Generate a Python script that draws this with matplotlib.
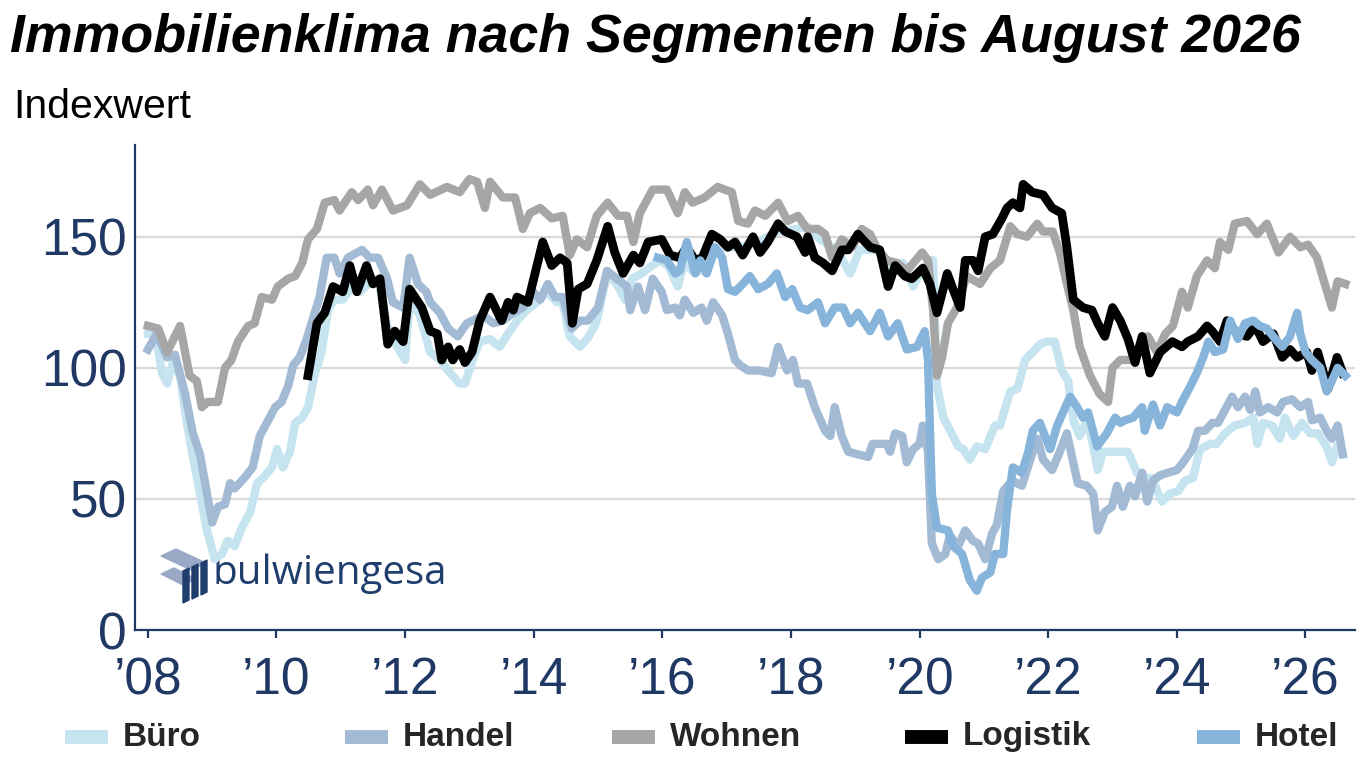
import numpy as np
import matplotlib
matplotlib.use('Agg')
import matplotlib.pyplot as plt
from matplotlib.lines import Line2D
from matplotlib.patches import Polygon

plt.rcParams['font.family'] = ['Liberation Sans', 'DejaVu Sans']

# data: (decimal year, index value)
buero = [(2008.0, 113), (2008.12, 113), (2008.22, 98), (2008.3, 94), (2008.39, 102), (2008.5, 97),
         (2008.6, 80), (2008.7, 66), (2008.81, 52), (2008.92, 38), (2009.04, 27), (2009.15, 29),
         (2009.24, 34), (2009.35, 32), (2009.46, 39), (2009.59, 45), (2009.7, 56), (2009.79, 58),
         (2009.93, 62), (2010.01, 69), (2010.1, 62), (2010.21, 68), (2010.29, 79), (2010.4, 81),
         (2010.49, 85), (2010.6, 98), (2010.7, 106), (2010.8, 122), (2010.9, 126), (2011.03, 126),
         (2011.17, 131), (2011.3, 129), (2011.42, 132), (2011.58, 134), (2011.72, 116), (2011.88, 108),
         (2012.0, 103), (2012.07, 126), (2012.23, 120), (2012.39, 106), (2012.54, 103), (2012.7, 98),
         (2012.85, 94), (2012.93, 94), (2013.05, 103), (2013.16, 110), (2013.32, 111), (2013.47, 108),
         (2013.6, 113), (2013.74, 118), (2013.89, 122), (2014.05, 125), (2014.21, 129), (2014.36, 125),
         (2014.45, 125), (2014.56, 112), (2014.72, 108), (2014.83, 111), (2014.95, 116), (2015.0, 120),
         (2015.14, 136), (2015.29, 132), (2015.42, 126), (2015.53, 134), (2015.68, 136), (2015.84, 139),
         (2015.96, 141), (2016.09, 139), (2016.24, 131), (2016.35, 141), (2016.46, 137), (2016.62, 137),
         (2016.71, 138), (2016.82, 144), (2016.97, 146), (2017.2, 146), (2017.5, 148), (2017.78, 152),
         (2018.1, 153), (2018.25, 154), (2018.45, 149), (2018.71, 145), (2018.92, 136), (2019.07, 145),
         (2019.33, 145), (2019.58, 139), (2019.74, 140), (2019.9, 131), (2020.0, 136), (2020.16, 141),
         (2020.21, 141), (2020.27, 93), (2020.37, 81), (2020.5, 75), (2020.6, 70), (2020.68, 69),
         (2020.78, 65), (2020.89, 70), (2021.02, 69), (2021.17, 78), (2021.25, 78), (2021.41, 91),
         (2021.52, 92), (2021.64, 103), (2021.76, 106), (2021.87, 109), (2021.98, 110), (2022.1, 110),
         (2022.21, 99), (2022.31, 95), (2022.39, 80), (2022.49, 74), (2022.6, 80), (2022.7, 70),
         (2022.77, 61), (2022.85, 68), (2023.0, 68), (2023.12, 68), (2023.24, 68), (2023.38, 60),
         (2023.47, 58), (2023.61, 58), (2023.77, 49), (2023.89, 52), (2024.02, 53), (2024.13, 57),
         (2024.25, 58), (2024.36, 69), (2024.52, 71), (2024.62, 71), (2024.75, 75), (2024.9, 78),
         (2025.06, 79), (2025.19, 81), (2025.25, 71), (2025.34, 79), (2025.48, 78), (2025.6, 73),
         (2025.68, 81), (2025.81, 74), (2025.95, 79), (2026.07, 75), (2026.19, 75), (2026.33, 70),
         (2026.41, 64), (2026.49, 70)]

handel = [(2008.0, 107), (2008.14, 113), (2008.3, 104), (2008.42, 105), (2008.58, 90), (2008.7, 75),
          (2008.81, 67), (2008.92, 52), (2009.0, 41), (2009.09, 47), (2009.2, 48), (2009.28, 56),
          (2009.35, 54), (2009.5, 58), (2009.63, 62), (2009.74, 74), (2009.85, 79), (2009.98, 85),
          (2010.08, 87), (2010.18, 93), (2010.26, 101), (2010.36, 104), (2010.47, 111), (2010.57, 119),
          (2010.67, 127), (2010.78, 142), (2010.9, 142), (2010.98, 136), (2011.11, 142), (2011.33, 145),
          (2011.45, 142), (2011.58, 142), (2011.72, 134), (2011.81, 125), (2011.97, 123), (2012.07, 142),
          (2012.2, 132), (2012.33, 129), (2012.39, 125), (2012.54, 121), (2012.67, 115), (2012.82, 112),
          (2012.96, 117), (2013.05, 118), (2013.21, 120), (2013.37, 117), (2013.52, 118), (2013.68, 121),
          (2013.83, 123), (2013.99, 129), (2014.1, 126), (2014.22, 132), (2014.33, 127), (2014.45, 127),
          (2014.59, 115), (2014.72, 118), (2014.84, 118), (2015.0, 123), (2015.14, 137), (2015.29, 134),
          (2015.45, 131), (2015.5, 122), (2015.62, 131), (2015.73, 122), (2015.85, 134), (2015.99, 129),
          (2016.07, 122), (2016.2, 123), (2016.27, 120), (2016.35, 126), (2016.48, 121), (2016.61, 123),
          (2016.69, 118), (2016.79, 125), (2016.93, 120), (2017.02, 113), (2017.13, 103), (2017.21, 101),
          (2017.33, 99), (2017.49, 99), (2017.7, 98), (2017.8, 108), (2017.94, 99), (2018.03, 103),
          (2018.11, 94), (2018.25, 94), (2018.37, 85), (2018.53, 76), (2018.61, 74), (2018.68, 85),
          (2018.79, 74), (2018.89, 68), (2019.04, 67), (2019.2, 66), (2019.27, 71), (2019.33, 71),
          (2019.49, 71), (2019.54, 68), (2019.62, 75), (2019.73, 74), (2019.8, 64), (2019.9, 69),
          (2020.0, 71), (2020.05, 78), (2020.13, 68), (2020.19, 33), (2020.29, 27), (2020.4, 29),
          (2020.47, 36), (2020.6, 32), (2020.71, 38), (2020.83, 34), (2020.91, 33), (2021.02, 27),
          (2021.13, 37), (2021.2, 40), (2021.3, 53), (2021.44, 57), (2021.59, 55), (2021.72, 65),
          (2021.83, 73), (2021.92, 65), (2022.06, 61), (2022.18, 68), (2022.29, 75), (2022.37, 66),
          (2022.46, 56), (2022.6, 55), (2022.7, 52), (2022.77, 38), (2022.88, 45), (2022.99, 47),
          (2023.07, 55), (2023.16, 47), (2023.27, 55), (2023.35, 51), (2023.46, 60), (2023.54, 49),
          (2023.63, 57), (2023.74, 59), (2023.86, 60), (2024.0, 61), (2024.1, 64), (2024.24, 69),
          (2024.33, 76), (2024.44, 76), (2024.55, 79), (2024.64, 79), (2024.75, 84), (2024.86, 89),
          (2024.95, 85), (2025.06, 89), (2025.14, 84), (2025.22, 91), (2025.29, 83), (2025.42, 85),
          (2025.56, 83), (2025.65, 87), (2025.79, 88), (2025.92, 85), (2026.04, 87), (2026.1, 80),
          (2026.23, 81), (2026.33, 76), (2026.41, 73), (2026.5, 78), (2026.58, 67)]

wohnen = [(2008.0, 116), (2008.16, 115), (2008.3, 106), (2008.5, 116), (2008.65, 97), (2008.76, 95),
          (2008.84, 85), (2008.93, 87), (2009.09, 87), (2009.2, 100), (2009.3, 103), (2009.4, 110),
          (2009.56, 116), (2009.66, 117), (2009.77, 127), (2009.93, 126), (2010.02, 131), (2010.18, 134),
          (2010.29, 135), (2010.4, 140), (2010.49, 149), (2010.63, 153), (2010.75, 163), (2010.9, 164),
          (2010.98, 160), (2011.17, 167), (2011.27, 164), (2011.42, 168), (2011.5, 162), (2011.64, 168),
          (2011.81, 160), (2012.03, 162), (2012.23, 170), (2012.39, 166), (2012.65, 169), (2012.85, 167),
          (2013.0, 172), (2013.12, 171), (2013.24, 161), (2013.32, 171), (2013.52, 165), (2013.71, 165),
          (2013.83, 153), (2013.94, 159), (2014.1, 161), (2014.28, 157), (2014.45, 158), (2014.56, 143),
          (2014.67, 149), (2014.83, 146), (2014.98, 158), (2015.15, 163), (2015.31, 158), (2015.45, 158),
          (2015.55, 148), (2015.65, 159), (2015.85, 168), (2016.07, 168), (2016.24, 159), (2016.35, 167),
          (2016.47, 163), (2016.66, 165), (2016.86, 169), (2017.08, 167), (2017.18, 156), (2017.33, 155),
          (2017.44, 160), (2017.6, 158), (2017.8, 163), (2017.95, 156), (2018.11, 158), (2018.25, 153),
          (2018.42, 153), (2018.53, 151), (2018.64, 142), (2018.79, 149), (2018.95, 146), (2019.1, 153),
          (2019.23, 151), (2019.33, 146), (2019.49, 141), (2019.65, 140), (2019.8, 137), (2020.04, 144),
          (2020.13, 141), (2020.21, 122), (2020.27, 97), (2020.35, 104), (2020.44, 117), (2020.58, 123),
          (2020.73, 135), (2020.94, 132), (2021.1, 138), (2021.25, 141), (2021.41, 154), (2021.52, 151),
          (2021.67, 150), (2021.83, 155), (2021.92, 152), (2022.07, 152), (2022.18, 144), (2022.29, 132),
          (2022.39, 122), (2022.49, 108), (2022.65, 97), (2022.8, 90), (2022.93, 87), (2023.0, 100),
          (2023.12, 103), (2023.27, 103), (2023.43, 106), (2023.55, 112), (2023.69, 106), (2023.82, 113),
          (2023.94, 116), (2024.08, 129), (2024.17, 123), (2024.31, 135), (2024.47, 141), (2024.59, 138),
          (2024.67, 148), (2024.8, 145), (2024.9, 155), (2025.09, 156), (2025.25, 151), (2025.4, 155),
          (2025.58, 144), (2025.76, 150), (2025.92, 146), (2026.04, 147), (2026.18, 142), (2026.3, 132),
          (2026.41, 123), (2026.5, 133), (2026.62, 132)]

logistik = [(2010.49, 97), (2010.63, 117), (2010.75, 121), (2010.88, 131), (2011.03, 129), (2011.14, 139),
            (2011.25, 129), (2011.4, 139), (2011.5, 132), (2011.61, 134), (2011.73, 109), (2011.84, 114),
            (2011.97, 110), (2012.07, 130), (2012.26, 123), (2012.39, 114), (2012.5, 113), (2012.57, 103),
            (2012.67, 108), (2012.74, 103), (2012.85, 107), (2012.93, 102), (2013.04, 106), (2013.16, 118),
            (2013.32, 127), (2013.5, 118), (2013.6, 125), (2013.68, 122), (2013.74, 127), (2013.91, 125),
            (2014.05, 139), (2014.14, 148), (2014.28, 139), (2014.41, 142), (2014.52, 140), (2014.6, 117),
            (2014.69, 130), (2014.83, 132), (2014.98, 141), (2015.15, 154), (2015.26, 144), (2015.39, 136),
            (2015.55, 143), (2015.65, 140), (2015.78, 148), (2015.99, 149), (2016.12, 143), (2016.27, 142),
            (2016.38, 146), (2016.51, 141), (2016.62, 142), (2016.77, 151), (2016.9, 149), (2017.02, 146),
            (2017.13, 148), (2017.25, 143), (2017.41, 150), (2017.52, 144), (2017.64, 148), (2017.8, 155),
            (2017.91, 152), (2018.09, 150), (2018.22, 144), (2018.26, 150), (2018.37, 142), (2018.5, 140),
            (2018.64, 137), (2018.79, 145), (2018.89, 145), (2019.04, 151), (2019.23, 146), (2019.38, 145),
            (2019.51, 131), (2019.62, 139), (2019.77, 135), (2019.88, 134), (2020.05, 138), (2020.16, 132),
            (2020.27, 121), (2020.43, 136), (2020.52, 130), (2020.63, 123), (2020.71, 141), (2020.83, 141),
            (2020.91, 137), (2021.02, 150), (2021.14, 151), (2021.28, 157), (2021.36, 161), (2021.45, 163),
            (2021.56, 161), (2021.61, 170), (2021.75, 167), (2021.92, 166), (2022.06, 161), (2022.21, 159),
            (2022.29, 146), (2022.39, 126), (2022.54, 123), (2022.68, 122), (2022.77, 117), (2022.88, 112),
            (2023.0, 123), (2023.12, 118), (2023.24, 111), (2023.35, 102), (2023.46, 112), (2023.58, 98),
            (2023.74, 106), (2023.93, 110), (2024.08, 108), (2024.17, 110), (2024.33, 112), (2024.47, 116),
            (2024.55, 114), (2024.67, 110), (2024.78, 118), (2024.94, 113), (2025.09, 112), (2025.22, 116),
            (2025.34, 110), (2025.5, 113), (2025.64, 104), (2025.76, 107), (2025.87, 104), (2026.02, 106),
            (2026.1, 99), (2026.19, 106), (2026.35, 92), (2026.49, 104), (2026.58, 98)]

hotel = [(2015.93, 142), (2016.07, 141), (2016.2, 136), (2016.27, 137), (2016.38, 148), (2016.51, 136),
         (2016.59, 141), (2016.69, 136), (2016.82, 146), (2016.93, 142), (2017.02, 130), (2017.13, 129),
         (2017.25, 132), (2017.36, 135), (2017.49, 130), (2017.64, 132), (2017.78, 136), (2017.91, 127),
         (2018.02, 130), (2018.14, 123), (2018.26, 122), (2018.42, 125), (2018.53, 117), (2018.68, 123),
         (2018.81, 123), (2018.92, 117), (2019.04, 121), (2019.23, 114), (2019.38, 121), (2019.51, 112),
         (2019.66, 117), (2019.8, 107), (2019.96, 108), (2020.08, 114), (2020.13, 103), (2020.19, 52),
         (2020.27, 39), (2020.44, 38), (2020.52, 32), (2020.66, 29), (2020.78, 19), (2020.89, 15),
         (2020.97, 20), (2021.1, 22), (2021.17, 29), (2021.3, 29), (2021.36, 46), (2021.45, 62),
         (2021.59, 60), (2021.69, 68), (2021.76, 76), (2021.87, 79), (2021.95, 74), (2022.03, 69),
         (2022.14, 78), (2022.23, 83), (2022.34, 89), (2022.45, 85), (2022.54, 81), (2022.62, 83),
         (2022.76, 70), (2022.91, 75), (2023.04, 81), (2023.12, 79), (2023.19, 80), (2023.32, 81),
         (2023.46, 85), (2023.5, 76), (2023.63, 86), (2023.74, 78), (2023.85, 85), (2024.0, 83),
         (2024.1, 88), (2024.21, 93), (2024.31, 98), (2024.41, 104), (2024.49, 110), (2024.59, 106),
         (2024.72, 107), (2024.83, 118), (2024.95, 111), (2025.06, 117), (2025.19, 118), (2025.29, 116),
         (2025.4, 115), (2025.53, 111), (2025.64, 108), (2025.76, 112), (2025.87, 121), (2025.92, 113),
         (2026.0, 106), (2026.1, 103), (2026.23, 100), (2026.33, 91), (2026.41, 95), (2026.5, 100),
         (2026.62, 97)]

labels = ["Büro", "Handel", "Wohnen", "Logistik", "Hotel"]
colors = ["#C6E4EF", "#A2BAD4", "#A6A6A6", "#000000", "#86B4DA"]
year_ticks = [2008, 2010, 2012, 2014, 2016, 2018, 2020, 2022, 2024, 2026]
year_labels = ["\u201908", "\u201910", "\u201912", "\u201914", "\u201916",
               "\u201918", "\u201920", "\u201922", "\u201924", "\u201926"]
navy = "#1F3864"

W, H = 1359, 766
fig = plt.figure(figsize=(W / 100, H / 100), dpi=100)
ax = fig.add_axes([135 / W, 1 - 630 / H, (1355 - 135) / W, (630 - 145) / H])

for i, series in enumerate([buero, handel, wohnen, logistik, hotel]):
    arr = np.array(series, dtype=float)
    ax.plot(arr[:, 0], arr[:, 1], color=colors[i], lw=6 if i != 3 else 6.3,
            solid_joinstyle='round', zorder=3 + i)

ax.set_xlim(2007.8, 2026.77)
ax.set_ylim(0, 185)
ax.set_yticks([0, 50, 100, 150])
ax.set_xticks(year_ticks)
ax.set_xticklabels(year_labels)
ax.grid(axis='y', color='#D9D9D9', lw=1.6, zorder=0)
ax.set_axisbelow(True)

for s in ['top', 'right']:
    ax.spines[s].set_visible(False)
for s in ['left', 'bottom']:
    ax.spines[s].set_color(navy)
    ax.spines[s].set_linewidth(1.6)
    ax.spines[s].set_zorder(10)

ax.tick_params(axis='y', length=0, pad=6, labelsize=37, labelcolor=navy)
ax.tick_params(axis='x', length=6, width=1.6, color=navy, direction='out',
               pad=13, labelsize=37, labelcolor=navy)

# logo (drawn below the lines)
ax.text(212 / W, 1 - 574 / H, "bulwiengesa", transform=fig.transFigure,
        fontsize=29, color="#1F3E6E", family=['Open Sans', 'DejaVu Sans'],
        va='center', ha='left', zorder=1)
plates = [[(161, 556), (176, 549), (206, 563), (191, 570)],
          [(161, 574), (174, 568), (196, 579), (183, 585)]]
for p in plates:
    ax.add_patch(Polygon([(x / W, 1 - y / H) for x, y in p], closed=True,
                         transform=fig.transFigure, color="#9AAAC6", zorder=1))
for k in range(3):
    x0 = 183 + 9 * k
    bar = [(x0, 603 - 4 * k), (x0 + 6, 600 - 4 * k), (x0 + 6, 568 - 4 * k), (x0, 571 - 4 * k)]
    ax.add_patch(Polygon([(x / W, 1 - y / H) for x, y in bar], closed=True,
                         transform=fig.transFigure, color="#1F3E6E", zorder=1))

# titles
fig.text(10 / W, 1 - 38 / H, "Immobilienklima nach Segmenten bis August 2026",
         fontsize=38.7, fontweight='bold', fontstyle='italic', va='center', ha='left')
fig.text(13 / W, 1 - 107 / H, "Indexwert", fontsize=29.5, va='center', ha='left')

# legend row along the bottom
key_x = [65, 345, 612, 905, 1197]
for i, lab in enumerate(labels):
    x0 = key_x[i]
    fig.add_artist(Line2D([x0 / W, (x0 + 43) / W], [1 - 737 / H, 1 - 737 / H],
                          transform=fig.transFigure, color=colors[i], lw=10,
                          solid_capstyle='butt'))
    fig.text((x0 + 58) / W, 1 - 737 / H, lab, fontsize=24, fontweight='bold',
             color='#262626', va='center', ha='left')

fig.savefig("out.png", dpi=100)
